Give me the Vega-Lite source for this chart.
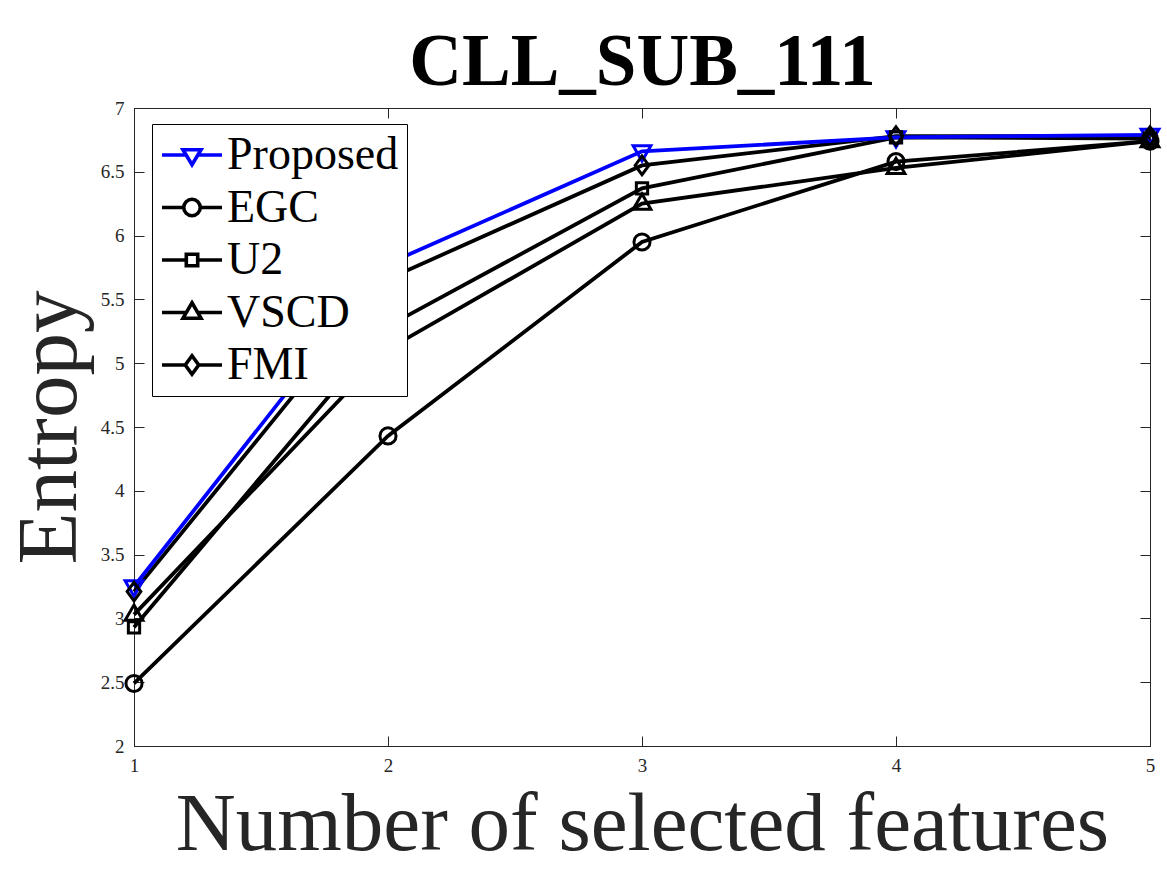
{
  "$schema": "https://vega.github.io/schema/vega-lite/v6.json",
  "width": 1016,
  "height": 638,
  "autosize": {"type": "none"},
  "padding": {"left": 134, "top": 108, "right": 17, "bottom": 129},
  "background": "white",
  "config": {
    "view": {"stroke": "black", "strokeWidth": 1},
    "font": "Liberation Serif",
    "axis": {"grid": false}
  },
  "data": {
    "values": [
      {"method": "Proposed", "k": 1, "entropy": 3.25},
      {"method": "Proposed", "k": 2, "entropy": 5.78},
      {"method": "Proposed", "k": 3, "entropy": 6.66},
      {"method": "Proposed", "k": 4, "entropy": 6.77},
      {"method": "Proposed", "k": 5, "entropy": 6.79},
      {"method": "EGC", "k": 1, "entropy": 2.49},
      {"method": "EGC", "k": 2, "entropy": 4.43},
      {"method": "EGC", "k": 3, "entropy": 5.95},
      {"method": "EGC", "k": 4, "entropy": 6.58},
      {"method": "EGC", "k": 5, "entropy": 6.74},
      {"method": "U2", "k": 1, "entropy": 2.93},
      {"method": "U2", "k": 2, "entropy": 5.29},
      {"method": "U2", "k": 3, "entropy": 6.37},
      {"method": "U2", "k": 4, "entropy": 6.77},
      {"method": "U2", "k": 5, "entropy": 6.76},
      {"method": "VSCD", "k": 1, "entropy": 3.03},
      {"method": "VSCD", "k": 2, "entropy": 5.11},
      {"method": "VSCD", "k": 3, "entropy": 6.25},
      {"method": "VSCD", "k": 4, "entropy": 6.53},
      {"method": "VSCD", "k": 5, "entropy": 6.74},
      {"method": "FMI", "k": 1, "entropy": 3.21},
      {"method": "FMI", "k": 2, "entropy": 5.66},
      {"method": "FMI", "k": 3, "entropy": 6.55},
      {"method": "FMI", "k": 4, "entropy": 6.78},
      {"method": "FMI", "k": 5, "entropy": 6.78}
    ]
  },
  "layer": [
    {
      "mark": {"type": "point", "opacity": 0},
      "encoding": {
        "x": {"field": "k", "type": "quantitative", "scale": {"domain": [1, 5], "nice": false, "zero": false}, "axis": {"orient": "top", "values": [1, 2, 3, 4, 5], "labels": false, "title": "CLL_SUB_111", "titleFont": "Liberation Serif", "titleFontSize": 73, "titleFontWeight": "bold", "titleColor": "black", "titleBaseline": "alphabetic", "titleY": -24, "tickSize": -10, "tickColor": "#262626", "domainColor": "#262626"}},
        "y": {"field": "entropy", "type": "quantitative", "scale": {"domain": [2, 7], "nice": false, "zero": false}, "axis": {"orient": "right", "values": [2, 2.5, 3, 3.5, 4, 4.5, 5, 5.5, 6, 6.5, 7], "labels": false, "title": null, "tickSize": -10, "tickColor": "#262626", "domainColor": "#262626"}}
      }
    },
    {
      "transform": [{"filter": "datum.method !== 'Proposed'"}],
      "mark": {"type": "line", "strokeWidth": 3.8, "color": "black"},
      "encoding": {
        "x": {
          "field": "k",
          "type": "quantitative",
          "scale": {"domain": [1, 5], "nice": false, "zero": false},
          "axis": {
            "orient": "bottom",
            "values": [1, 2, 3, 4, 5],
            "format": "d",
            "title": "Number of selected features",
            "titleFont": "Liberation Serif",
            "titleFontSize": 83,
            "titleFontWeight": "normal",
            "titleColor": "#262626",
            "titleBaseline": "alphabetic",
            "titleY": 103,
            "labelFont": "Liberation Serif",
            "labelFontSize": 19,
            "labelColor": "#262626",
            "labelPadding": 20,
            "tickSize": -10,
            "tickColor": "#262626",
            "domainColor": "#262626",
            "labelFlush": false
          }
        },
        "y": {
          "field": "entropy",
          "type": "quantitative",
          "scale": {"domain": [2, 7], "nice": false, "zero": false},
          "axis": {
            "orient": "left",
            "values": [2, 2.5, 3, 3.5, 4, 4.5, 5, 5.5, 6, 6.5, 7],
            "format": ".1~f",
            "title": "Entropy",
            "titleFont": "Liberation Serif",
            "titleFontSize": 85,
            "titleFontWeight": "normal",
            "titleColor": "#262626",
            "titleBaseline": "alphabetic",
            "titleAngle": -90,
            "titleX": -59,
            "titleY": 319,
            "labelFont": "Liberation Serif",
            "labelFontSize": 19,
            "labelColor": "#262626",
            "labelPadding": 20,
            "tickSize": -10,
            "tickColor": "#262626",
            "domainColor": "#262626",
            "labelFlush": false
          }
        },
        "detail": {"field": "method"}
      }
    },
    {
      "transform": [{"filter": "datum.method === 'Proposed'"}],
      "mark": {"type": "line", "strokeWidth": 3.8, "color": "#0000ff"},
      "encoding": {
        "x": {"field": "k", "type": "quantitative", "axis": null},
        "y": {"field": "entropy", "type": "quantitative", "axis": null}
      }
    },
    {
      "mark": {"type": "point", "filled": false, "strokeWidth": 3, "size": 260, "opacity": 1},
      "encoding": {
        "x": {"field": "k", "type": "quantitative", "axis": null},
        "y": {"field": "entropy", "type": "quantitative", "axis": null},
        "color": {
          "field": "method",
          "type": "nominal",
          "scale": {"domain": ["Proposed", "EGC", "U2", "VSCD", "FMI"], "range": ["#0000ff", "#000000", "#000000", "#000000", "#000000"]},
          "legend": null
        },
        "shape": {
          "field": "method",
          "type": "nominal",
          "scale": {
            "domain": ["Proposed", "EGC", "U2", "VSCD", "FMI"],
            "range": [
              "M-1.1,-0.7H1.1L0,1.2Z",
              "M1,0A1,1,0,1,1,-1,0A1,1,0,1,1,1,0Z",
              "M-0.7,-0.7H0.7V0.7H-0.7Z",
              "M0,-1.2L1.1,0.7H-1.1Z",
              "M0,-1.15L0.85,0L0,1.15L-0.85,0Z"
            ]
          },
          "legend": null
        }
      }
    },
    {
      "mark": {"type": "point", "filled": false, "strokeWidth": 3.6, "size": 0, "opacity": 1},
      "encoding": {
        "x": {"field": "k", "type": "quantitative", "axis": null},
        "y": {"field": "entropy", "type": "quantitative", "axis": null},
        "color": {
          "field": "method",
          "type": "nominal",
          "scale": {"domain": ["Proposed", "EGC", "U2", "VSCD", "FMI"], "range": ["#0000ff", "#000000", "#000000", "#000000", "#000000"]},
          "legend": {
            "title": null,
            "orient": "none",
            "legendX": 18,
            "legendY": 16,
            "strokeColor": "black",
            "fillColor": "white",
            "padding": 8,
            "symbolOffset": 9,
            "symbolSize": 900,
            "symbolStrokeWidth": 3.6,
            "symbolOpacity": 1,
            "labelOffset": 12,
            "labelLimit": 400,
            "labelFont": "Liberation Serif",
            "labelFontSize": 46,
            "labelColor": "black",
            "rowPadding": 6.5
          }
        },
        "shape": {
          "field": "method",
          "type": "nominal",
          "scale": {
            "domain": ["Proposed", "EGC", "U2", "VSCD", "FMI"],
            "range": [
              "M-2,0H-0.42M0.42,0H2M-0.6,-0.35H0.6L0,0.65Z",
              "M-2,0H-0.55M0.55,0H2M0.55,0A0.55,0.55,0,1,1,-0.55,0A0.55,0.55,0,1,1,0.55,0Z",
              "M-2,0H-0.38M0.38,0H2M-0.38,-0.38H0.38V0.38H-0.38Z",
              "M-2,0H-0.33M0.33,0H2M0,-0.65L0.6,0.38H-0.6Z",
              "M-2,0H-0.45M0.45,0H2M0,-0.62L0.45,0L0,0.62L-0.45,0Z"
            ]
          },
          "legend": {
            "title": null,
            "orient": "none",
            "legendX": 18,
            "legendY": 16,
            "strokeColor": "black",
            "fillColor": "white",
            "padding": 8,
            "symbolOffset": 9,
            "symbolSize": 900,
            "symbolStrokeWidth": 3.6,
            "symbolOpacity": 1,
            "labelOffset": 12,
            "labelLimit": 400,
            "labelFont": "Liberation Serif",
            "labelFontSize": 46,
            "labelColor": "black",
            "rowPadding": 6.5
          }
        }
      }
    }
  ],
  "resolve": {
    "axis": {"x": "independent", "y": "independent"},
    "scale": {"shape": "independent", "color": "independent"}
  }
}
